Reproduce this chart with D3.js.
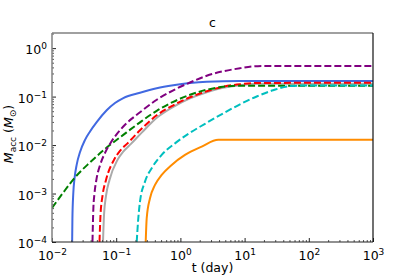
<!DOCTYPE html>
<html>
<head>
<meta charset="utf-8">
<script src="https://cdn.jsdelivr.net/npm/d3@7"></script>
<style>
  body { margin: 0; background: #fff; }
  svg { font-family: "DejaVu Sans", sans-serif; }
</style>
</head>
<body>
<svg id="chart" width="415" height="277"></svg>
<script>
// accreted mass vs time
const tBlue = [0.0206, 0.02079, 0.02145, 0.0224, 0.0243, 0.02717, 0.0327, 0.0391, 0.050, 0.0711, 0.0957, 0.129, 0.235, 0.428, 0.775, 1.41, 2.57, 8.47, 1000];
const mBlue = [1e-4, 3e-4, 0.001, 0.002, 0.004, 0.007, 0.0128, 0.019, 0.030, 0.0521, 0.0735, 0.0931, 0.1198, 0.1484, 0.1712, 0.190, 0.202, 0.209, 0.209];

const tPurple = [0.0427, 0.0441, 0.0459, 0.0494, 0.0566, 0.0673, 0.0812, 0.129, 0.235, 0.428, 0.775, 1.41, 2.57, 8.47, 13, 20, 1000];
const mPurple = [1e-4, 5e-4, 0.001, 0.002, 0.004, 0.007, 0.0109, 0.0241, 0.0474, 0.0859, 0.135, 0.195, 0.269, 0.385, 0.418, 0.43, 0.43];

const tGreen = [0.01, 0.01483, 0.02282, 0.03907, 0.0719, 0.129, 0.2348, 0.4273, 0.775, 1.411, 2.569, 4.609, 8.478, 1000];
const mGreen = [5.04e-4, 0.001029, 0.00215, 0.00439, 0.008966, 0.01624, 0.02944, 0.05088, 0.0781, 0.1089, 0.1382, 0.1594, 0.1671, 0.1671];

const tRed = [0.05495, 0.05694, 0.06116, 0.06937, 0.09241, 0.1146, 0.150, 0.2306, 0.4273, 0.775, 1.411, 2.569, 4.609, 8.478, 17.38, 1000];
const mRed = [1e-4, 3.613e-4, 8.92e-4, 0.00191, 0.004945, 0.00759, 0.01084, 0.01965, 0.04109, 0.0661, 0.09672, 0.1287, 0.1594, 0.1795, 0.191, 0.1928];

const tGray = [0.06228, 0.06457, 0.06937, 0.07865, 0.1048, 0.1299, 0.170, 0.2523, 0.4477, 0.775, 1.411, 2.569, 4.609, 8.478, 17.38, 1000];
const mGray = [1e-4, 3.613e-4, 8.92e-4, 0.00191, 0.004945, 0.00741, 0.01059, 0.0183, 0.03824, 0.06155, 0.09224, 0.1227, 0.152, 0.1713, 0.1838, 0.1838];

const tCyan = [0.2086, 0.2209, 0.2348, 0.2809, 0.3573, 0.5113, 0.8238, 1.328, 2.416, 4.658, 8.478, 15.44, 27.7, 50.96, 104.4, 1000];
const mCyan = [1e-4, 3.088e-4, 6.8e-4, 0.001762, 0.003332, 0.006273, 0.01084, 0.01703, 0.02742, 0.04519, 0.06932, 0.1005, 0.1349, 0.1647, 0.1696, 0.1696];

const tOrange = [0.2881, 0.2986, 0.336, 0.402, 0.5113, 0.7318, 1.179, 2.147, 3.893, 1000];
const mOrange = [1e-4, 3.088e-4, 7.99e-4, 0.001506, 0.002423, 0.003899, 0.006273, 0.009311, 0.01281, 0.01281];

const xDecades = [1e-2, 1e-1, 1e0, 1e1, 1e2, 1e3];
const xExp = ["−2", "−1", "0", "1", "2", "3"];
const yDecades = [1e-4, 1e-3, 1e-2, 1e-1, 1e0];
const yExp = ["−4", "−3", "−2", "−1", "0"];

const series = [
  { t: tBlue, m: mBlue, color: "#4169e1", dash: null },
  { t: tGray, m: mGray, color: "#aaaaaa", dash: null },
  { t: tRed, m: mRed, color: "#ff0000", dash: "7,3" },
  { t: tGreen, m: mGreen, color: "#008000", dash: "7,3" },
  { t: tPurple, m: mPurple, color: "#800080", dash: "7,3" },
  { t: tCyan, m: mCyan, color: "#00bfbf", dash: "7,3" },
  { t: tOrange, m: mOrange, color: "#ff8c00", dash: null }
];

const svg = d3.select("#chart");
const margin = { top: 33, right: 42, bottom: 35, left: 52 };
const width = 415, height = 277;

const x = d3.scaleLog().domain([1e-2, 1e3]).range([margin.left, width - margin.right]);
const y = d3.scaleLog().domain([1e-4, 2.05]).range([height - margin.bottom, margin.top]);

svg.append("clipPath").attr("id", "clip")
  .append("rect")
  .attr("x", margin.left).attr("y", margin.top)
  .attr("width", x.range()[1] - x.range()[0])
  .attr("height", y.range()[0] - y.range()[1]);

// curves
const line = d3.line()
  .x(d => x(d[0]))
  .y(d => y(d[1]))
  .curve(d3.curveMonotoneX);

svg.append("g").attr("clip-path", "url(#clip)")
  .selectAll("path")
  .data(series)
  .join("path")
  .attr("d", s => line(s.t.map((t, i) => [t, s.m[i]])))
  .attr("fill", "none")
  .attr("stroke", s => s.color)
  .attr("stroke-width", 2)
  .attr("stroke-dasharray", s => s.dash);

// minor ticks
const isDecade = v => Math.abs(Math.log10(v) - Math.round(Math.log10(v))) < 1e-6;
const xMinor = x.ticks(60).filter(v => !isDecade(v));
const yMinor = y.ticks(60).filter(v => !isDecade(v) && v < 2.05);

svg.append("g")
  .attr("transform", `translate(0,${y.range()[0]})`)
  .call(d3.axisBottom(x).tickValues(xMinor).tickSize(-2).tickFormat(""))
  .call(g => g.select(".domain").remove())
  .call(g => g.selectAll("line").attr("stroke", "#555"));

svg.append("g")
  .attr("transform", `translate(${x.range()[0]},0)`)
  .call(d3.axisLeft(y).tickValues(yMinor).tickSize(-2).tickFormat(""))
  .call(g => g.select(".domain").remove())
  .call(g => g.selectAll("line").attr("stroke", "#555"));

// major ticks with 10^n labels
const xAxis = svg.append("g")
  .attr("transform", `translate(0,${y.range()[0]})`)
  .call(d3.axisBottom(x).tickValues(xDecades).tickSize(-4).tickPadding(9).tickFormat(""));
xAxis.select(".domain").remove();
xAxis.selectAll("line").attr("stroke", "#222");
xAxis.selectAll("text")
  .attr("font-size", 12.5).attr("fill", "#000").attr("font-family", "DejaVu Sans")
  .each(function (d, i) {
    const t = d3.select(this);
    t.append("tspan").text("10");
    t.append("tspan").attr("dy", -5).attr("font-size", 9).text(xExp[i]);
  });

const yAxis = svg.append("g")
  .attr("transform", `translate(${x.range()[0]},0)`)
  .call(d3.axisLeft(y).tickValues(yDecades).tickSize(-4).tickPadding(5).tickFormat(""));
yAxis.select(".domain").remove();
yAxis.selectAll("line").attr("stroke", "#222");
yAxis.selectAll("text")
  .attr("font-size", 12.5).attr("fill", "#000").attr("font-family", "DejaVu Sans")
  .attr("dy", "0.45em")
  .each(function (d, i) {
    const t = d3.select(this);
    t.append("tspan").text("10");
    t.append("tspan").attr("dy", -5).attr("font-size", 9).text(yExp[i]);
  });

// spines
const [x0, x1] = x.range(), [y0, y1] = y.range();
svg.append("line").attr("x1", x0).attr("x2", x1).attr("y1", y1).attr("y2", y1)
  .attr("stroke", "#808080").attr("stroke-width", 1.5);
svg.append("line").attr("x1", x0).attr("x2", x0).attr("y1", y0).attr("y2", y1)
  .attr("stroke", "#808080").attr("stroke-width", 1.5);
svg.append("line").attr("x1", x0).attr("x2", x1).attr("y1", y0).attr("y2", y0)
  .attr("stroke", "#222").attr("stroke-width", 1.2);
svg.append("line").attr("x1", x1).attr("x2", x1).attr("y1", y0).attr("y2", y1)
  .attr("stroke", "#111").attr("stroke-width", 1.2);

// title and axis labels
svg.append("text")
  .attr("x", (x0 + x1) / 2).attr("y", 27)
  .attr("text-anchor", "middle").attr("font-size", 12.5)
  .text("c");

svg.append("text")
  .attr("x", (x0 + x1) / 2).attr("y", 272)
  .attr("text-anchor", "middle").attr("font-size", 12.5)
  .text("t (day)");

const yl = svg.append("text")
  .attr("transform", "translate(13,134) rotate(-90)")
  .attr("text-anchor", "middle").attr("font-size", 12.5);
yl.append("tspan").attr("font-style", "italic").text("M");
yl.append("tspan").attr("font-size", 9).attr("dy", 3).text("acc");
yl.append("tspan").attr("dy", -3).text(" (");
yl.append("tspan").attr("font-style", "italic").text("M");
yl.append("tspan").attr("font-size", 9).attr("dy", 3).text("⊙");
yl.append("tspan").attr("dy", -3).text(")");
</script>
</body>
</html>
